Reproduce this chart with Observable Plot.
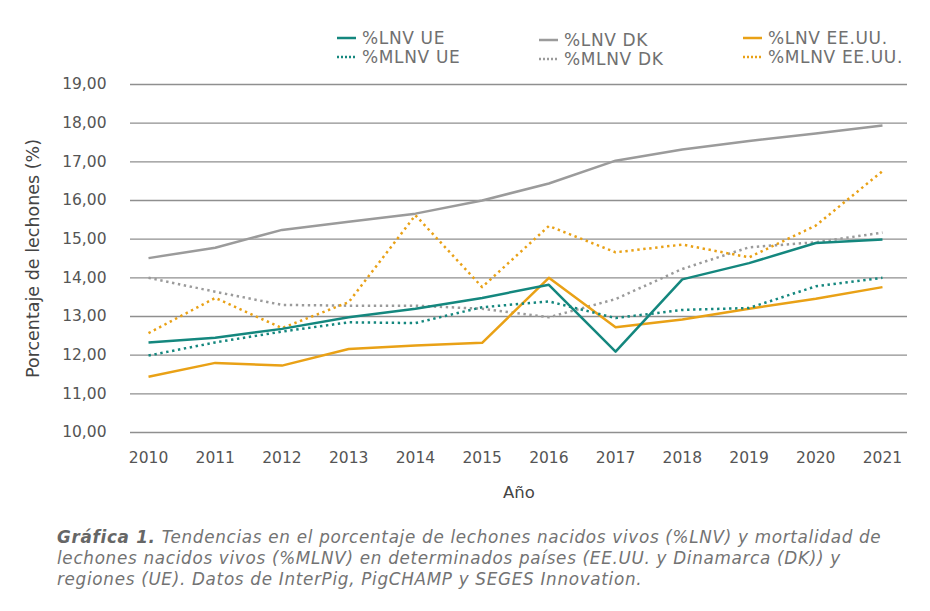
<!DOCTYPE html>
<html><head><meta charset="utf-8">
<script src="https://cdn.jsdelivr.net/npm/d3@7"></script>
<script src="https://cdn.jsdelivr.net/npm/@observablehq/plot@0.6"></script>
<style>
body{margin:0;background:#fff;font-family:"DejaVu Sans",sans-serif;}
#wrap{width:930px;height:611px;position:relative;overflow:hidden;}
#legend{height:70px;position:relative;}
.li{position:absolute;font-size:17px;color:#707070;white-space:nowrap;line-height:18px;letter-spacing:0.65px;}
.li svg{vertical-align:middle;margin-right:6px;margin-top:-3px;}
#caption{position:absolute;left:57px;top:527px;font-size:16.8px;line-height:21px;color:#737373;font-style:italic;letter-spacing:0.7px;}
#caption b{font-weight:bold;color:#666;}
</style></head>
<body><div id="wrap">
<div id="legend"></div>
<div id="chart"></div>
<div id="caption"><b>Gráfica 1.</b> Tendencias en el porcentaje de lechones nacidos vivos (%LNV) y mortalidad de<br>lechones nacidos vivos (%MLNV) en determinados países (EE.UU. y Dinamarca (DK)) y<br>regiones (UE). Datos de InterPig, PigCHAMP y SEGES Innovation.</div>
</div>
<script>
const years = [2010,2011,2012,2013,2014,2015,2016,2017,2018,2019,2020,2021];
const lnvUE  = [12.33,12.45,12.68,12.98,13.20,13.48,13.82,12.09,13.96,14.38,14.90,14.99];
const mlnvUE = [11.99,12.33,12.61,12.85,12.83,13.24,13.39,12.96,13.17,13.22,13.78,14.00];
const lnvDK  = [14.51,14.78,15.24,15.45,15.66,16.00,16.44,17.03,17.32,17.54,17.73,17.94];
const mlnvDK = [14.00,13.64,13.30,13.28,13.28,13.20,12.98,13.45,14.23,14.79,14.92,15.17];
const lnvUS  = [11.44,11.80,11.73,12.16,12.25,12.32,14.00,12.72,12.92,13.20,13.46,13.76];
const mlnvUS = [12.57,13.48,12.70,13.37,15.62,13.76,15.34,14.66,14.86,14.53,15.35,16.76];
const yTicks = [10,11,12,13,14,15,16,17,18,19];

const teal = "#14877e", gray = "#9b9b9b", orange = "#e9a116";
const series = [
  {name:"%MLNV DK", vals:mlnvDK, color:gray, dotted:true},
  {name:"%LNV DK", vals:lnvDK, color:gray, dotted:false},
  {name:"%MLNV EE.UU.", vals:mlnvUS, color:orange, dotted:true},
  {name:"%LNV EE.UU.", vals:lnvUS, color:orange, dotted:false},
  {name:"%MLNV UE", vals:mlnvUE, color:teal, dotted:true},
  {name:"%LNV UE", vals:lnvUE, color:teal, dotted:false}
];

const marks = [
  Plot.ruleY(yTicks, {stroke:"#8f8f8f", strokeWidth:1.3}),
  Plot.axisY({ticks:yTicks, tickSize:0, tickPadding:24, tickFormat:d=>d.toFixed(2).replace(".",","), fontSize:15.5, label:null}),
  Plot.axisX({ticks:years, tickSize:0, tickPadding:19, tickFormat:d=>String(d), fontSize:15.5, label:null}),
  Plot.text(["Porcentaje de lechones (%)"], {frameAnchor:"left", textAnchor:"middle", dx:-97, dy:0, rotate:-90, fontSize:17.5, fill:"#444", letterSpacing:0.5}),
  Plot.text(["Año"], {frameAnchor:"bottom", dy:65, fontSize:16.5, fill:"#444"})
];
for (const s of series) {
  const data = years.map((y,i)=>({year:y, v:s.vals[i]}));
  marks.push(Plot.line(data, {x:"year", y:"v", stroke:s.color, strokeWidth:2.5,
    strokeDasharray: s.dotted ? "2.4 3.6" : null, strokeLinecap:"butt", strokeLinejoin:"round"}));
}

const plot = Plot.plot({
  width:930, height:445,
  marginLeft:130, marginRight:23, marginTop:14, marginBottom:83,
  x:{domain:[2009.73, 2021.375]},
  y:{domain:[10,19]},
  style:{fontFamily:"DejaVu Sans, sans-serif", color:"#555", background:"#fff", overflow:"visible"},
  marks
});
document.getElementById("chart").appendChild(plot);

const legendItems = [
  {name:"%LNV UE", color:teal, dotted:false, x:337, y:29},
  {name:"%MLNV UE", color:teal, dotted:true, x:337, y:48},
  {name:"%LNV DK", color:gray, dotted:false, x:539, y:31},
  {name:"%MLNV DK", color:gray, dotted:true, x:539, y:50},
  {name:"%LNV EE.UU.", color:orange, dotted:false, x:743, y:29},
  {name:"%MLNV EE.UU.", color:orange, dotted:true, x:743, y:48}
];
const lg = document.getElementById("legend");
for (const it of legendItems) {
  const d = document.createElement("div");
  d.className = "li";
  d.style.left = it.x + "px"; d.style.top = it.y + "px";
  d.innerHTML = `<svg width="19" height="6"><line x1="0" x2="19" y1="3" y2="3" stroke="${it.color}" stroke-width="2.5" ${it.dotted?'stroke-dasharray="2 2"':''}/></svg>${it.name}`;
  lg.appendChild(d);
}
</script>
</body></html>
